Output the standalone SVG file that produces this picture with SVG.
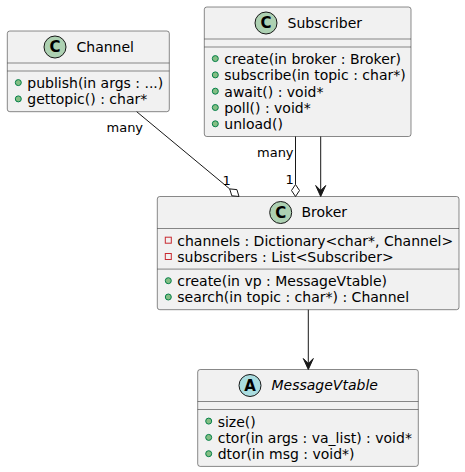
<svg xmlns="http://www.w3.org/2000/svg" width="465" height="472" viewBox="0 0 465 472">
<defs>
<style>
.box{fill:#F1F1F1;stroke:#181818;stroke-width:0.5}
.sep{stroke:#181818;stroke-width:0.5}
.t{font-family:"DejaVu Sans",Verdana,sans-serif;font-size:14px;fill:#000000}
.ti{font-style:italic}
.lbl{font-family:"DejaVu Sans",Verdana,sans-serif;font-size:13px;fill:#000000}
.ic{font-family:"DejaVu Sans",sans-serif;font-size:15px;font-weight:bold;fill:#000000;text-anchor:middle}
.cC{fill:#ADD1B2;stroke:#181818;stroke-width:1}
.cA{fill:#A9DCDF;stroke:#181818;stroke-width:1}
.pub{fill:#84BE84;stroke:#038048;stroke-width:1}
.priv{fill:none;stroke:#C82930;stroke-width:1}
.edge{fill:none;stroke:#181818;stroke-width:1}
.dia{fill:#FFFFFF;stroke:#181818;stroke-width:1}
.arr{fill:#181818;stroke:#181818;stroke-width:1}
</style>
</defs>
<g id="Channel">
<rect class="box" x="7.3" y="31" width="162" height="80.7" rx="2.5"/>
<circle class="cC" cx="55" cy="47" r="11"/>
<text class="ic" x="55" y="52.3">C</text>
<text class="t" x="76.5" y="51.85">Channel</text>
<line class="sep" x1="7.3" y1="63" x2="169.3" y2="63"/>
<line class="sep" x1="7.3" y1="71" x2="169.3" y2="71"/>
<circle class="pub" cx="18.3" cy="82.6" r="3"/>
<text class="t" x="27.3" y="88">publish(in args : ...)</text>
<circle class="pub" cx="18.3" cy="98.9" r="3"/>
<text class="t" x="27.3" y="104.3">gettopic() : char*</text>
</g>
<g id="Subscriber">
<rect class="box" x="204.3" y="7" width="206.7" height="129.5" rx="2.5"/>
<circle class="cC" cx="266" cy="23" r="11"/>
<text class="ic" x="266" y="28.3">C</text>
<text class="t" x="287.5" y="27.85">Subscriber</text>
<line class="sep" x1="204.3" y1="39" x2="411" y2="39"/>
<line class="sep" x1="204.3" y1="47" x2="411" y2="47"/>
<circle class="pub" cx="215.3" cy="58.6" r="3"/>
<text class="t" x="224.3" y="64">create(in broker : Broker)</text>
<circle class="pub" cx="215.3" cy="74.9" r="3"/>
<text class="t" x="224.3" y="80.3">subscribe(in topic : char*)</text>
<circle class="pub" cx="215.3" cy="91.2" r="3"/>
<text class="t" x="224.3" y="96.6">await() : void*</text>
<circle class="pub" cx="215.3" cy="107.5" r="3"/>
<text class="t" x="224.3" y="112.9">poll() : void*</text>
<circle class="pub" cx="215.3" cy="123.8" r="3"/>
<text class="t" x="224.3" y="129.2">unload()</text>
</g>
<g id="Broker">
<rect class="box" x="157.3" y="196.5" width="301.7" height="113.2" rx="2.5"/>
<circle class="cC" cx="280.7" cy="212.5" r="11"/>
<text class="ic" x="280.7" y="217.8">C</text>
<text class="t" x="301.5" y="217.35">Broker</text>
<line class="sep" x1="157.3" y1="228.5" x2="459" y2="228.5"/>
<rect class="priv" x="165.3" y="237.2" width="6" height="6"/>
<text class="t" x="177.3" y="245.5">channels : Dictionary&lt;char*, Channel&gt;</text>
<rect class="priv" x="165.3" y="253.5" width="6" height="6"/>
<text class="t" x="177.3" y="261.8">subscribers : List&lt;Subscriber&gt;</text>
<line class="sep" x1="157.3" y1="269.1" x2="459" y2="269.1"/>
<circle class="pub" cx="168.3" cy="280.7" r="3"/>
<text class="t" x="177.3" y="286.1">create(in vp : MessageVtable)</text>
<circle class="pub" cx="168.3" cy="297" r="3"/>
<text class="t" x="177.3" y="302.4">search(in topic : char*) : Channel</text>
</g>
<g id="MessageVtable">
<rect class="box" x="197.7" y="369.5" width="220.6" height="96.9" rx="2.5"/>
<circle class="cA" cx="250" cy="385.5" r="11"/>
<text class="ic" x="250" y="390.8">A</text>
<text class="t ti" x="271.5" y="390.35">MessageVtable</text>
<line class="sep" x1="197.7" y1="401.5" x2="418.3" y2="401.5"/>
<line class="sep" x1="197.7" y1="409.5" x2="418.3" y2="409.5"/>
<circle class="pub" cx="208.7" cy="421.1" r="3"/>
<text class="t" x="217.7" y="426.5">size()</text>
<circle class="pub" cx="208.7" cy="437.4" r="3"/>
<text class="t" x="217.7" y="442.8">ctor(in args : va_list) : void*</text>
<circle class="pub" cx="208.7" cy="453.7" r="3"/>
<text class="t" x="217.7" y="459.1">dtor(in msg : void*)</text>
</g>
<g id="connectors">
<path class="edge" d="M136.7,111.7 L229.7,188.9"/>
<polygon class="dia" points="239,196.5 231.8,195.8 229.7,188.9 236.9,189.6"/>
<text class="lbl" x="106.5" y="131.7">many</text>
<text class="lbl" x="222.5" y="185">1</text>
<path class="edge" d="M295.5,136.5 L295.5,184.5"/>
<polygon class="dia" points="295.5,184.5 299.5,190.5 295.5,196.5 291.5,190.5"/>
<text class="lbl" x="257" y="156.7">many</text>
<text class="lbl" x="285.5" y="184.3">1</text>
<path class="edge" d="M320.7,136.5 L320.7,191"/>
<polygon class="arr" points="320.7,196.5 325.7,185.5 320.7,190.5 315.7,185.5"/>
<path class="edge" d="M308.3,309.7 L308.3,364"/>
<polygon class="arr" points="308.3,369.5 313.3,358.5 308.3,363.5 303.3,358.5"/>
</g>
</svg>
